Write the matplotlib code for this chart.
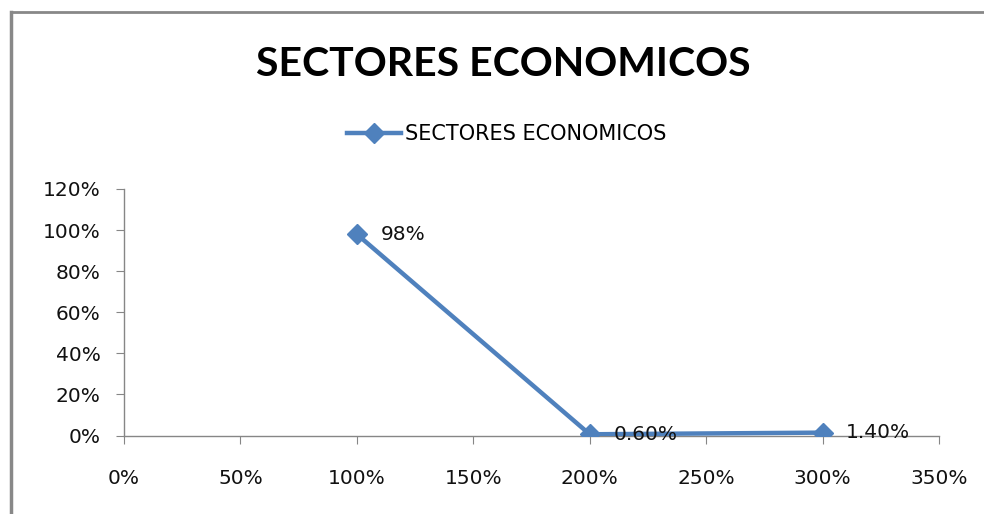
import matplotlib
matplotlib.use("Agg")
import matplotlib.pyplot as plt
from matplotlib.ticker import FuncFormatter, MultipleLocator
from matplotlib.lines import Line2D

x_vals = [1.0, 2.0, 3.0]
y_vals = [0.98, 0.006, 0.014]
point_labels = ["98%", "0.60%", "1.40%"]
series_name = "SECTORES ECONOMICOS"
title = "SECTORES ECONOMICOS"

plt.rcParams['font.family'] = ['DejaVu Sans']
color = "#4F81BD"
gray = "#868686"

fig = plt.figure(figsize=(9.84, 5.14), dpi=100)
ax = fig.add_axes([124/984, 1-435.5/514, (939-124)/984, (435.5-189)/514])

ax.plot(x_vals, y_vals, color=color, lw=3.2, marker="D", ms=10, mfc=color, mec=color, zorder=3)
for x, y, t in zip(x_vals, y_vals, point_labels):
    ax.annotate(t, (x, y), xytext=(17, 0), textcoords="offset points",
                ha="left", va="center", fontsize=14.5, color="#111111", zorder=4)

ax.set_xlim(0, 3.5)
ax.set_ylim(0, 1.2)
ax.xaxis.set_major_locator(MultipleLocator(0.5))
ax.yaxis.set_major_locator(MultipleLocator(0.2))
ax.xaxis.set_major_formatter(FuncFormatter(lambda v, p: f"{v*100:.0f}%"))
ax.yaxis.set_major_formatter(FuncFormatter(lambda v, p: f"{v*100:.0f}%"))
for s in ["top", "right"]:
    ax.spines[s].set_visible(False)
for s in ["left", "bottom"]:
    ax.spines[s].set_color(gray)
    ax.spines[s].set_linewidth(1)
ax.tick_params(axis="both", direction="out", length=6, color=gray, labelsize=14.5, labelcolor="#111111")
ax.tick_params(axis="x", pad=18)
ax.tick_params(axis="y", pad=11)

fig.text(503/984, 1-65/514, title, ha="center", va="center", fontsize=29.5,
         fontweight="bold", color="#000000", family=["Lato", "DejaVu Sans"])

handle = Line2D([], [], color=color, lw=3.2, marker="D", ms=10)
fig.legend([handle], [series_name], loc="center", bbox_to_anchor=(507/984, 1-134/514),
           frameon=False, fontsize=15, handlelength=2.6, handletextpad=0.2)

# chart border
fig.add_artist(Line2D([11/984, 11/984], [0, 1-12/514], transform=fig.transFigure, color="#888888", lw=2.5))
fig.add_artist(Line2D([11/984, 1], [1-12/514, 1-12/514], transform=fig.transFigure, color="#888888", lw=2))

fig.savefig("out.png", dpi=100)
